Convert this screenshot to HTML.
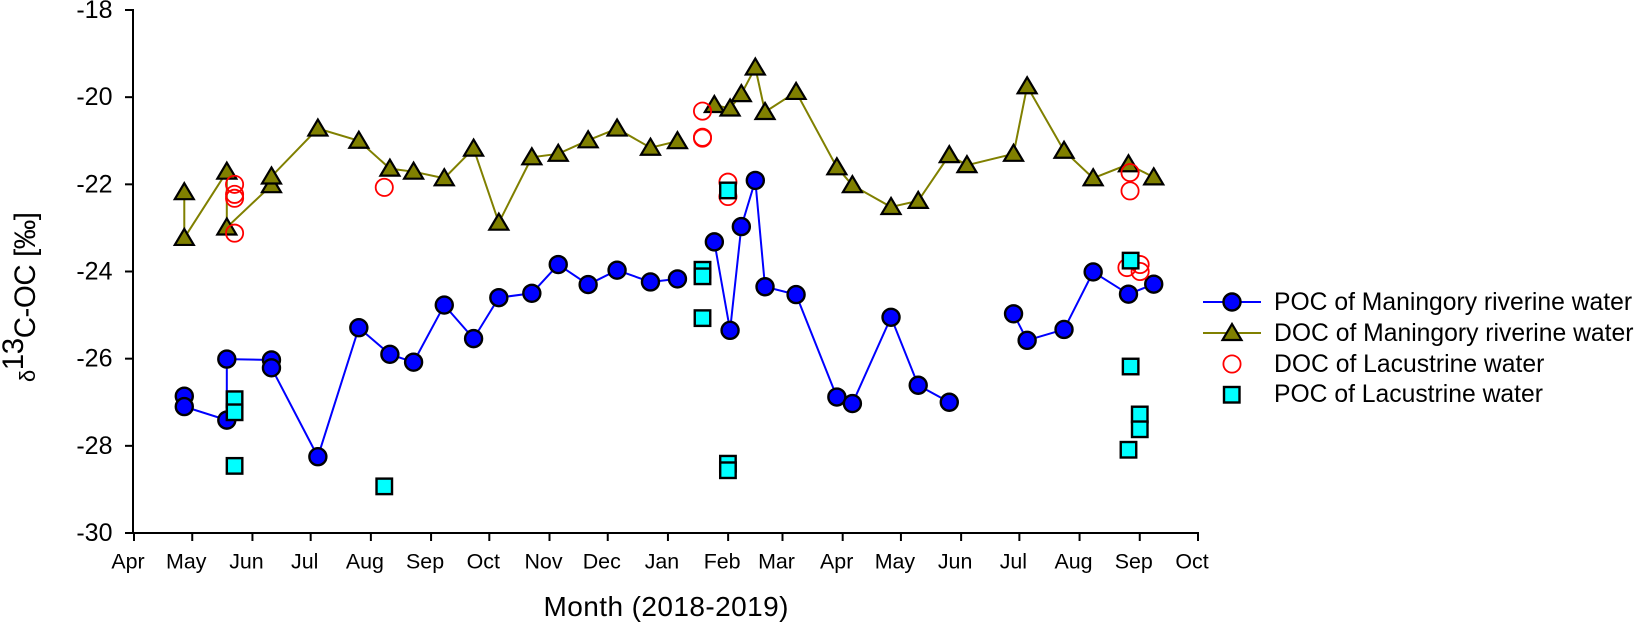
<!DOCTYPE html>
<html lang="en">
<head>
<meta charset="utf-8">
<title>δ13C-OC by month</title>
<style>
html,body{margin:0;padding:0;background:#fff;}
svg{display:block;}
text{font-family:"Liberation Sans",Arial,sans-serif;fill:#000;}
</style>
</head>
<body>
<svg id="chart" width="1638" height="623" viewBox="0 0 1638 623" xmlns="http://www.w3.org/2000/svg">
  <rect x="0" y="0" width="1638" height="623" fill="#ffffff"/>
  <g id="axes"></g>
  <g id="marks"></g>
  <text x="666" y="616" font-size="28" text-anchor="middle" textLength="245" lengthAdjust="spacing">Month (2018-2019)</text>
  <text transform="translate(35 382) rotate(-90)" font-size="29.5" textLength="170" lengthAdjust="spacing"><tspan font-size="22">δ</tspan><tspan font-size="29.5" dy="-12">13</tspan><tspan dy="12">C-OC [‰]</tspan></text>
  <g>
    <g>
      <line x1="1203" x2="1261" y1="302" y2="302" stroke="#0000ff" stroke-width="2"/>
      <circle cx="1232" cy="302" r="8.5" fill="#0000ff" stroke="#000" stroke-width="2.4"/>
      <text x="1274" y="310" font-size="24.7">POC of Maningory riverine water</text>
    </g>
    <g>
      <line x1="1203" x2="1261" y1="333" y2="333" stroke="#808000" stroke-width="2"/>
      <polygon points="1232,324 1241.5,340 1222.5,340" fill="#808000" stroke="#000" stroke-width="2.2"/>
      <text x="1274" y="341" font-size="24.7">DOC of Maningory riverine water</text>
    </g>
    <g>
      <circle cx="1232" cy="364" r="8.6" fill="none" stroke="#ff0000" stroke-width="1.8"/>
      <text x="1274" y="372" font-size="24.7">DOC of Lacustrine water</text>
    </g>
    <g>
      <rect x="1224" y="387" width="15.5" height="15.5" fill="#00ffff" stroke="#000" stroke-width="2.4"/>
      <text x="1274" y="402" font-size="24.7">POC of Lacustrine water</text>
    </g>
  </g>
</svg>
<script>
// X values are days since 1 April 2018; null splits a line into separate runs.
const monthLabels = ['Apr','May','Jun','Jul','Aug','Sep','Oct','Nov','Dec','Jan','Feb','Mar','Apr','May','Jun','Jul','Aug','Sep','Oct'];
const monthDays = [0,30,61,91,122,153,183,214,244,275,306,334,365,395,426,456,487,518,548];
const yTicks = [-18,-20,-22,-24,-26,-28,-30];

const pocRiverDays = [25.9,25.9,47.8,47.8,70.8,70.8,94.7,115.8,131.8,144,159.8,174.9,187.9,204.9,218.5,233.9,248.8,266,279.9,null,298.9,307,312.8,320,325,341,362,370,389.9,403.9,419.9,null,453,460,479,494,512.2,525.2];
const pocRiverValues = [-26.86,-27.10,-27.41,-26.01,-26.03,-26.21,-28.25,-25.29,-25.90,-26.08,-24.77,-25.54,-24.60,-24.50,-23.84,-24.30,-23.97,-24.24,-24.17,null,-23.32,-25.35,-22.97,-21.91,-24.35,-24.53,-26.88,-27.03,-25.05,-26.61,-27.00,null,-24.97,-25.58,-25.33,-24.01,-24.52,-24.29];

const docRiverDays = [25.9,25.9,47.8,47.8,70.8,70.8,94.7,115.8,131.8,144,159.8,174.9,187.9,204.9,218.5,233.9,248.8,266,279.9,null,298.9,307,312.8,320,325,341,362,370,389.9,403.9,419.9,429,453,460,479,494,512.2,525.2];
const docRiverValues = [-22.18,-23.23,-21.71,-22.99,-22.02,-21.82,-20.72,-21.00,-21.64,-21.71,-21.86,-21.18,-22.88,-21.38,-21.30,-20.99,-20.72,-21.16,-21.01,null,-20.18,-20.26,-19.93,-19.32,-20.34,-19.88,-21.61,-22.02,-22.52,-22.38,-21.33,-21.56,-21.30,-19.75,-21.23,-21.86,-21.54,-21.84];

const docLakeDays = [51.8,51.8,51.8,51.8,128.9,292.8,292.8,292.8,305.9,305.9,513,513,518.2,518.2,511.4];
const docLakeValues = [-22.00,-22.23,-22.32,-23.12,-22.07,-20.32,-20.92,-20.94,-21.95,-22.28,-21.73,-22.15,-23.84,-24.00,-23.91];

const pocLakeDays = [51.8,51.8,51.8,128.9,292.8,292.8,292.8,305.9,305.9,305.9,513.3,513.3,518,518,512.2];
const pocLakeValues = [-26.93,-27.23,-28.46,-28.93,-23.96,-24.11,-25.07,-22.14,-28.41,-28.56,-23.75,-26.18,-27.28,-27.62,-28.09];

const NS = 'http://www.w3.org/2000/svg';
const axes = document.getElementById('axes');
const marks = document.getElementById('marks');

function xScale(day) { return 134 + (day / 548) * 1064; }
function yScale(v) { return 10 + ((-18 - v) / 12) * 523; }

function make(tag, parent) {
  const el = document.createElementNS(NS, tag);
  parent.appendChild(el);
  return el;
}
function setLine(el, x1, y1, x2, y2) {
  el.setAttribute('x1', x1); el.setAttribute('y1', y1);
  el.setAttribute('x2', x2); el.setAttribute('y2', y2);
  el.setAttribute('stroke', '#000');
  el.setAttribute('stroke-width', 2);
}

// Axis lines
const yAxisLine = make('line', axes);


setLine(yAxisLine, 133, 9, 133, 534);
const xAxisLine = make('line', axes);


setLine(xAxisLine, 125, 533, 1199, 533);

// Y ticks
yTicks.forEach(function (t) {
  const y = yScale(t);
  const tick = make('line', axes);
  
  
  setLine(tick, 125, y, 133, y);
  const label = make('text', axes);
  
  
  label.setAttribute('x', 112.5);
  label.setAttribute('y', y + 8);
  label.setAttribute('font-size', 25);
  label.setAttribute('text-anchor', 'end');
  label.textContent = String(t);
});

// X ticks
monthDays.forEach(function (d, i) {
  const x = xScale(d);
  const tick = make('line', axes);
  
  
  setLine(tick, x, 533, x, 541);
  const label = make('text', axes);
  
  
  label.setAttribute('x', x - 6);
  label.setAttribute('y', 568.5);
  label.setAttribute('font-size', 21.4);
  label.setAttribute('text-anchor', 'middle');
  label.textContent = monthLabels[i];
});

// Connected series lines, broken at null entries
function pathFor(days, values) {
  let d = '';
  let pen = false;
  days.forEach(function (day, i) {
    if (day === null || values[i] === null) { pen = false; return; }
    d += (pen ? 'L' : 'M') + xScale(day).toFixed(2) + ' ' + yScale(values[i]).toFixed(2);
    pen = true;
  });
  return d;
}

const pocLine = make('path', marks);


pocLine.setAttribute('d', pathFor(pocRiverDays, pocRiverValues));
pocLine.setAttribute('fill', 'none');
pocLine.setAttribute('stroke', '#0000ff');
pocLine.setAttribute('stroke-width', 2);

pocRiverDays.forEach(function (day, i) {
  if (day === null) return;
  const c = make('circle', marks);
  
  
  c.setAttribute('cx', xScale(day));
  c.setAttribute('cy', yScale(pocRiverValues[i]));
  c.setAttribute('r', 8.5);
  c.setAttribute('fill', '#0000ff');
  c.setAttribute('stroke', '#000');
  c.setAttribute('stroke-width', 2.4);
});

const docLine = make('path', marks);


docLine.setAttribute('d', pathFor(docRiverDays, docRiverValues));
docLine.setAttribute('fill', 'none');
docLine.setAttribute('stroke', '#808000');
docLine.setAttribute('stroke-width', 2);

docRiverDays.forEach(function (day, i) {
  if (day === null) return;
  const x = xScale(day);
  const y = yScale(docRiverValues[i]);
  const p = make('polygon', marks);
  
  
  p.setAttribute('points', x + ',' + (y - 9) + ' ' + (x + 9.5) + ',' + (y + 7) + ' ' + (x - 9.5) + ',' + (y + 7));
  p.setAttribute('fill', '#808000');
  p.setAttribute('stroke', '#000');
  p.setAttribute('stroke-width', 2.2);
});

docLakeDays.forEach(function (day, i) {
  const c = make('circle', marks);
  
  
  c.setAttribute('cx', xScale(day));
  c.setAttribute('cy', yScale(docLakeValues[i]));
  c.setAttribute('r', 8.6);
  c.setAttribute('fill', 'none');
  c.setAttribute('stroke', '#ff0000');
  c.setAttribute('stroke-width', 1.8);
});

pocLakeDays.forEach(function (day, i) {
  const r = make('rect', marks);
  
  
  r.setAttribute('x', xScale(day) - 7.75);
  r.setAttribute('y', yScale(pocLakeValues[i]) - 7.75);
  r.setAttribute('width', 15.5);
  r.setAttribute('height', 15.5);
  r.setAttribute('fill', '#00ffff');
  r.setAttribute('stroke', '#000');
  r.setAttribute('stroke-width', 2.4);
});
</script>
</body>
</html>
